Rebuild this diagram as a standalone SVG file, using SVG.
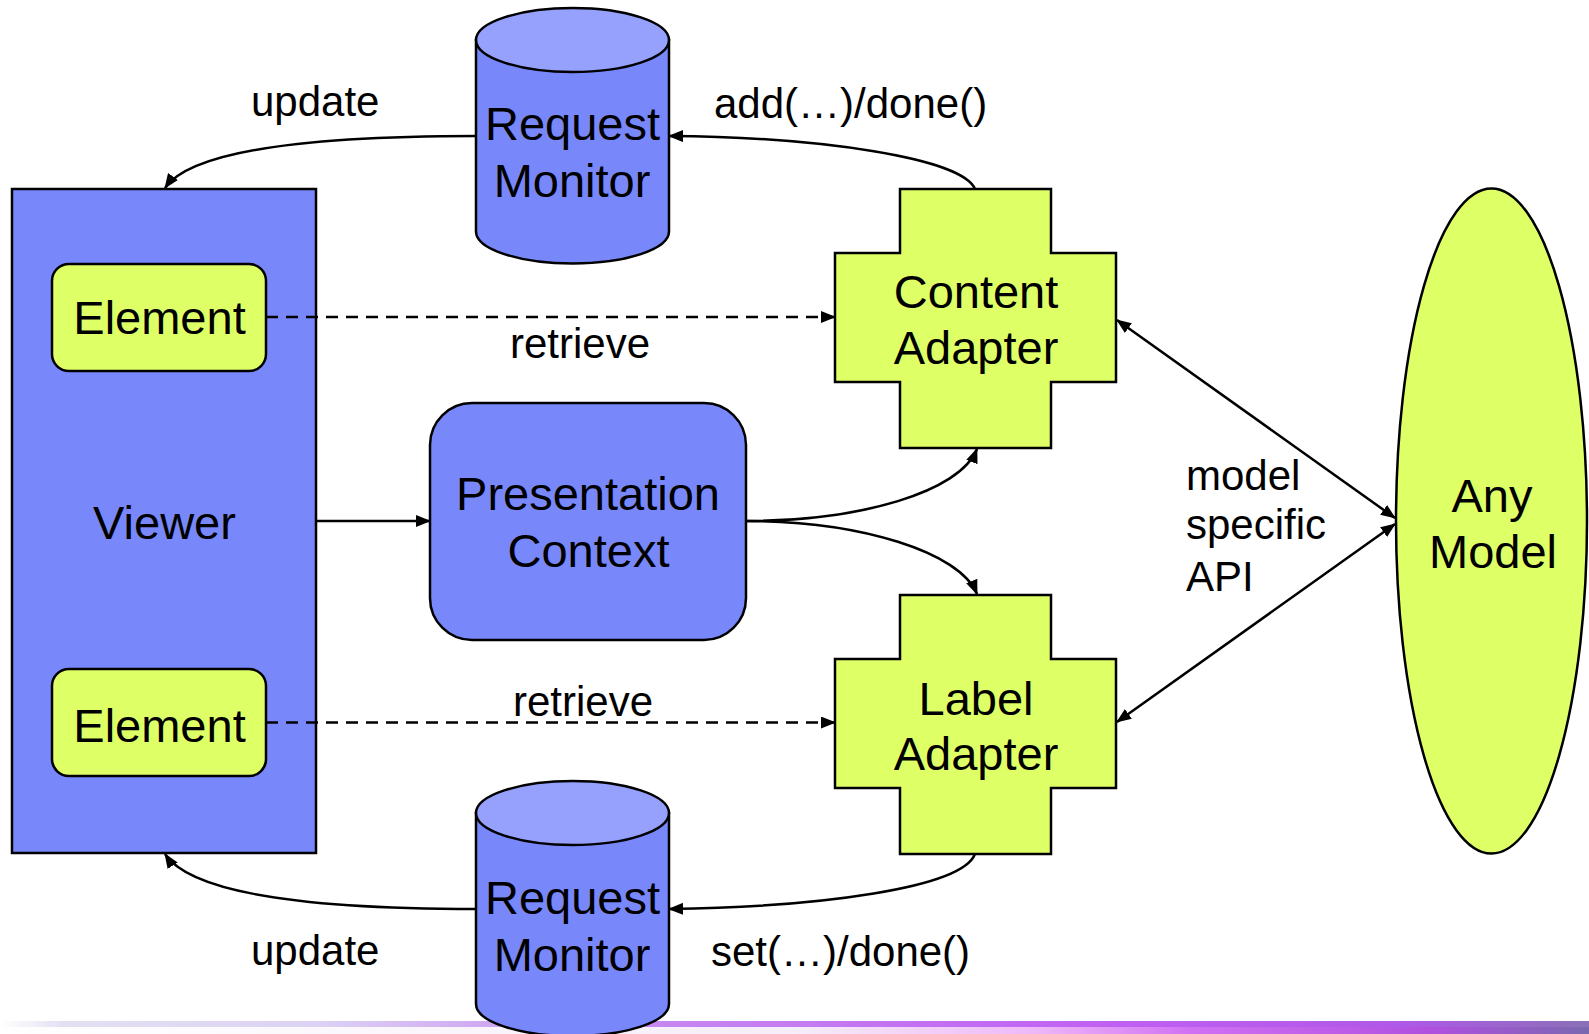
<svg xmlns="http://www.w3.org/2000/svg" width="1589" height="1034" viewBox="0 0 1589 1034">
  <style>
    .blue { fill: #7888FB; stroke: #000; stroke-width: 2.5; }
    .cyltop { fill: #95A1FC; stroke: #000; stroke-width: 2.5; }
    .green { fill: #DFFF66; stroke: #000; stroke-width: 2.5; }
    .node { font-family: "Liberation Sans", Arial, sans-serif; font-size: 47px; fill: #000; text-anchor: middle; }
    .lbl { font-family: "Liberation Sans", Arial, sans-serif; font-size: 42px; fill: #000; }
    .edge { fill: none; stroke: #000; stroke-width: 2.5; }
    .dash { stroke-dasharray: 12 8; }
  </style>
  <defs>
    <marker id="arrow" viewBox="0 0 15 12" refX="14" refY="6" markerWidth="15" markerHeight="12" markerUnits="userSpaceOnUse" orient="auto">
      <path d="M0,0 L15,6 L0,12 Z" fill="#000"/>
    </marker>
    <marker id="arrowStart" viewBox="0 0 15 12" refX="1" refY="6" markerWidth="15" markerHeight="12" markerUnits="userSpaceOnUse" orient="auto">
      <path d="M15,0 L0,6 L15,12 Z" fill="#000"/>
    </marker>
    <linearGradient id="bandTop" x1="0" y1="0" x2="1" y2="0">
      <stop offset="0" stop-color="#ffffff"/>
      <stop offset="0.04" stop-color="#e4e0f2"/>
      <stop offset="0.2" stop-color="#dcd2f4"/>
      <stop offset="0.38" stop-color="#c78cf0"/>
      <stop offset="0.7" stop-color="#c060f2"/>
      <stop offset="0.88" stop-color="#b058e8"/>
      <stop offset="1" stop-color="#8a70b8"/>
    </linearGradient>
    <linearGradient id="bandBottom" x1="0" y1="0" x2="1" y2="0">
      <stop offset="0" stop-color="#ffffff"/>
      <stop offset="0.5" stop-color="#f6eefa"/>
      <stop offset="0.65" stop-color="#eeb8f8"/>
      <stop offset="0.75" stop-color="#d070f4"/>
      <stop offset="0.9" stop-color="#b050e0"/>
      <stop offset="1" stop-color="#7a68b0"/>
    </linearGradient>
  </defs>

  <rect width="1589" height="1034" fill="#fff"/>

  <!-- decorative footer band -->
  <g id="footer">
    <rect x="0" y="1021" width="1589" height="6" fill="url(#bandTop)"/>
    <rect x="0" y="1027" width="1589" height="7" fill="url(#bandBottom)"/>
  </g>

  <!-- Viewer with its two elements -->
  <g id="viewer">
    <rect class="blue" x="12" y="189" width="304" height="664"/>
    <text class="node" x="164.5" y="539">Viewer</text>
  </g>
  <g id="element-top">
    <rect class="green" x="52" y="264" width="214" height="107" rx="17"/>
    <text class="node" x="159.5" y="334">Element</text>
  </g>
  <g id="element-bottom">
    <rect class="green" x="52" y="669" width="214" height="107" rx="17"/>
    <text class="node" x="159.5" y="742">Element</text>
  </g>

  <!-- Request monitors (cylinders) -->
  <g id="monitor-top">
    <path class="blue" d="M476,40 L476,231.5 A96.5,32 0 0 0 669,231.5 L669,40 Z"/>
    <ellipse class="cyltop" cx="572.5" cy="40" rx="96.5" ry="32"/>
    <text class="node" x="572.5" y="140">Request</text>
    <text class="node" x="572" y="197">Monitor</text>
  </g>
  <g id="monitor-bottom">
    <path class="blue" d="M476,813 L476,1004 A96.5,32 0 0 0 669,1004 L669,813 Z"/>
    <ellipse class="cyltop" cx="572.5" cy="813" rx="96.5" ry="32"/>
    <text class="node" x="572.5" y="914">Request</text>
    <text class="node" x="572" y="971">Monitor</text>
  </g>

  <!-- Presentation context -->
  <g id="presentation-context">
    <rect class="blue" x="430" y="403" width="316" height="237" rx="42"/>
    <text class="node" x="588" y="509.5">Presentation</text>
    <text class="node" x="588.5" y="567">Context</text>
  </g>

  <!-- Adapters (cross shapes) -->
  <g id="content-adapter">
    <polygon class="green" points="900,189 1051,189 1051,253 1116,253 1116,382 1051,382 1051,448 900,448 900,382 835,382 835,253 900,253"/>
    <text class="node" x="976" y="308">Content</text>
    <text class="node" x="976" y="364">Adapter</text>
  </g>
  <g id="label-adapter">
    <polygon class="green" points="900,595 1051,595 1051,659 1116,659 1116,788 1051,788 1051,854 900,854 900,788 835,788 835,659 900,659"/>
    <text class="node" x="976" y="714.5">Label</text>
    <text class="node" x="976" y="770">Adapter</text>
  </g>

  <!-- Model -->
  <g id="any-model">
    <ellipse class="green" cx="1491.5" cy="521" rx="95.5" ry="332.5"/>
    <text class="node" x="1492" y="512">Any</text>
    <text class="node" x="1493" y="567.5">Model</text>
  </g>

  <!-- connectors -->
  <g id="connectors">
    <path class="edge" d="M476,136 C300,136 190,152 165,188" marker-end="url(#arrow)"/>
    <path class="edge" d="M975,189 C962,158 820,137 669,136" marker-end="url(#arrow)"/>
    <path class="edge" d="M476,909 C300,909 190,892 165,854" marker-end="url(#arrow)"/>
    <path class="edge" d="M975,854 C962,888 820,907 669,909" marker-end="url(#arrow)"/>
    <path class="edge dash" d="M266,317 L835,317" marker-end="url(#arrow)"/>
    <path class="edge dash" d="M266,722.5 L835,722.5" marker-end="url(#arrow)"/>
    <path class="edge" d="M316,521 L430,521" marker-end="url(#arrow)"/>
    <path class="edge" d="M746,521 C860,521 960,492 977,449" marker-end="url(#arrow)"/>
    <path class="edge" d="M746,521 C860,521 960,552 977,594" marker-end="url(#arrow)"/>
    <path class="edge" d="M1117,320 L1395,518" marker-start="url(#arrowStart)" marker-end="url(#arrow)"/>
    <path class="edge" d="M1117,722 L1395,524" marker-start="url(#arrowStart)" marker-end="url(#arrow)"/>
  </g>

  <!-- connector labels -->
  <g id="labels">
    <text class="lbl" x="251" y="115.5">update</text>
    <text class="lbl" x="714" y="118">add(…)/done()</text>
    <text class="lbl" x="510" y="358">retrieve</text>
    <text class="lbl" x="513" y="715.5">retrieve</text>
    <text class="lbl" x="1186" y="489.5">model</text>
    <text class="lbl" x="1186" y="539">specific</text>
    <text class="lbl" x="1186" y="591">API</text>
    <text class="lbl" x="251" y="965">update</text>
    <text class="lbl" x="711" y="966">set(…)/done()</text>
  </g>
</svg>
